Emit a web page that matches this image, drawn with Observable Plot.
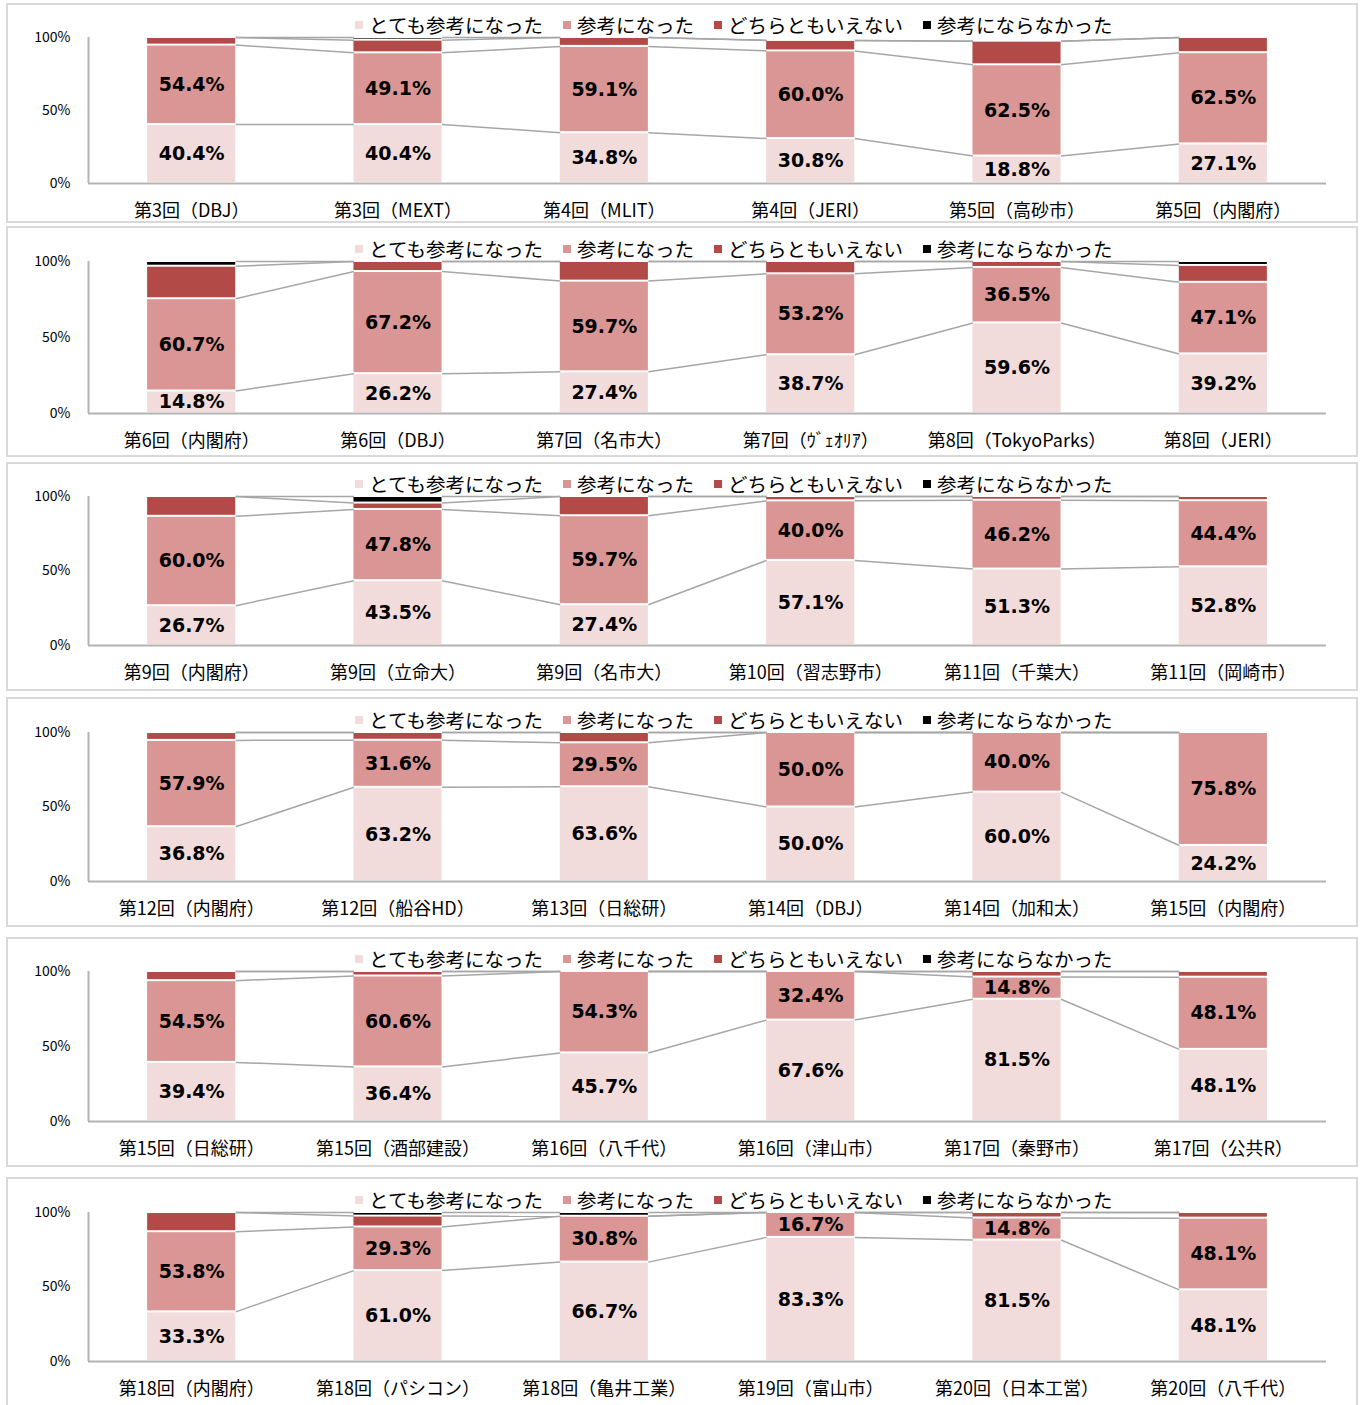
<!DOCTYPE html>
<html><head><meta charset="utf-8">
<script src="https://cdn.jsdelivr.net/npm/d3@7"></script>
<script src="https://cdn.jsdelivr.net/npm/@observablehq/plot@0.6"></script>
<style>
body{margin:0;background:#fff;width:1363px;height:1405px;overflow:hidden;position:relative;font-family:"Noto Sans CJK JP",sans-serif;}
.panel{position:absolute;left:6px;width:1348px;border:2px solid #d9d9d9;background:#fff;}
.panel svg{display:block;position:absolute;left:0;top:0;}
.legend{position:absolute;display:flex;align-items:center;font-size:19.5px;line-height:20px;color:#000;white-space:nowrap;}
.legend .item{display:flex;align-items:center;margin-right:20px;}
.legend .sw{width:8px;height:8px;margin-right:6px;}
</style></head><body>
<script>
const seriesNames = ["とても参考になった","参考になった","どちらともいえない","参考にならなかった"];
const seriesColors = ["#f2dcdb","#d99694","#b24b48","#000000"];
const yTicks = [0, 50, 100];

const labels1 = ["第3回（DBJ）","第3回（MEXT）","第4回（MLIT）","第4回（JERI）","第5回（高砂市）","第5回（内閣府）"];
const veryHelpful1 = [40.4,40.4,34.8,30.8,18.8,27.1];
const helpful1 = [54.4,49.1,59.1,60.0,62.5,62.5];
const neutral1 = [5.2,8.7,6.1,7.2,16.2,10.4];
const notHelpful1 = [0,1.8,0,0,0,0];

const labels2 = ["第6回（内閣府）","第6回（DBJ）","第7回（名市大）","第7回（ｳﾞｪｵﾘｱ）","第8回（TokyoParks）","第8回（JERI）"];
const veryHelpful2 = [14.8,26.2,27.4,38.7,59.6,39.2];
const helpful2 = [60.7,67.2,59.7,53.2,36.5,47.1];
const neutral2 = [21.4,6.6,12.9,8.1,3.9,11.1];
const notHelpful2 = [3.1,0,0,0,0,2.6];

const labels3 = ["第9回（内閣府）","第9回（立命大）","第9回（名市大）","第10回（習志野市）","第11回（千葉大）","第11回（岡崎市）"];
const veryHelpful3 = [26.7,43.5,27.4,57.1,51.3,52.8];
const helpful3 = [60.0,47.8,59.7,40.0,46.2,44.4];
const neutral3 = [13.3,4.3,12.9,2.9,2.5,2.8];
const notHelpful3 = [0,4.4,0,0,0,0];

const labels4 = ["第12回（内閣府）","第12回（船谷HD）","第13回（日総研）","第14回（DBJ）","第14回（加和太）","第15回（内閣府）"];
const veryHelpful4 = [36.8,63.2,63.6,50.0,60.0,24.2];
const helpful4 = [57.9,31.6,29.5,50.0,40.0,75.8];
const neutral4 = [5.3,5.2,6.9,0,0,0];
const notHelpful4 = [0,0,0,0,0,0];

const labels5 = ["第15回（日総研）","第15回（酒部建設）","第16回（八千代）","第16回（津山市）","第17回（秦野市）","第17回（公共R）"];
const veryHelpful5 = [39.4,36.4,45.7,67.6,81.5,48.1];
const helpful5 = [54.5,60.6,54.3,32.4,14.8,48.1];
const neutral5 = [6.1,3.0,0,0,3.7,3.8];
const notHelpful5 = [0,0,0,0,0,0];

const labels6 = ["第18回（内閣府）","第18回（パシコン）","第18回（亀井工業）","第19回（富山市）","第20回（日本工営）","第20回（八千代）"];
const veryHelpful6 = [33.3,61.0,66.7,83.3,81.5,48.1];
const helpful6 = [53.8,29.3,30.8,16.7,14.8,48.1];
const neutral6 = [12.9,7.3,0,0,3.7,3.8];
const notHelpful6 = [0,2.4,2.5,0,0,0];

const panelData = [
  {labels: labels1, series: [veryHelpful1, helpful1, neutral1, notHelpful1]},
  {labels: labels2, series: [veryHelpful2, helpful2, neutral2, notHelpful2]},
  {labels: labels3, series: [veryHelpful3, helpful3, neutral3, notHelpful3]},
  {labels: labels4, series: [veryHelpful4, helpful4, neutral4, notHelpful4]},
  {labels: labels5, series: [veryHelpful5, helpful5, neutral5, notHelpful5]},
  {labels: labels6, series: [veryHelpful6, helpful6, neutral6, notHelpful6]}
];

// layout (page pixels): box top/bottom, y of 100% and 0%
const panelLayout = [
  {top: 3, bottom: 223, y100: 37, y0: 183},
  {top: 226, bottom: 457, y100: 261, y0: 413},
  {top: 462, bottom: 691, y100: 496, y0: 645},
  {top: 697, bottom: 927, y100: 732, y0: 881},
  {top: 937, bottom: 1167, y100: 971, y0: 1121},
  {top: 1177, bottom: 1412, y100: 1212, y0: 1361}
];

const W = 1348, ML = 80, MR = 30, HW = 0.2135;

panelData.forEach((p, pi) => {
  const lay = panelLayout[pi];
  const n = p.labels.length;
  const height = lay.bottom - lay.top - 4;
  const innerTop = lay.top + 2;
  const marginTop = lay.y100 - innerTop;
  const marginBottom = height - (lay.y0 - innerTop);

  const rows = [];
  const cumTops = [];
  p.labels.forEach((lab, i) => {
    let cum = 0;
    const tops = [];
    p.series.forEach((arr, k) => {
      const v = arr[i];
      rows.push({i, k, name: seriesNames[k], v, y1: cum, y2: cum + v});
      cum += v;
      tops.push(cum);
    });
    cumTops.push(tops);
  });
  const links = [];
  for (let i = 0; i < n - 1; i++) {
    for (let k = 0; k < seriesNames.length; k++) {
      links.push({i, yA: cumTops[i][k], yB: cumTops[i + 1][k]});
    }
  }

  const chart = Plot.plot({
    width: W, height, marginLeft: ML, marginRight: MR, marginTop, marginBottom,
    x: {type: "linear", domain: [-0.5, n - 0.5], axis: null},
    y: {domain: [0, 100], axis: null},
    color: {domain: seriesNames, range: seriesColors},
    style: {fontFamily: "'Noto Sans CJK JP', sans-serif", color: "#000", background: "transparent", overflow: "visible"},
    marks: [
      Plot.link(links, {x1: d => d.i + HW, x2: d => d.i + 1 - HW, y1: "yA", y2: "yB", stroke: "#a6a6a6", strokeWidth: 1.5}),
      Plot.rect(rows.filter(d => d.v > 0), {x1: d => d.i - HW, x2: d => d.i + HW, y1: "y1", y2: "y2", fill: "name", insetTop: 1, insetBottom: 1}),
      Plot.ruleX([-0.5], {y1: 0, y2: 100, stroke: "#b3b3b3", strokeWidth: 2}),
      Plot.ruleY([0], {stroke: "#b3b3b3", strokeWidth: 2}),
      Plot.axisY({ticks: yTicks, tickFormat: d => d + "%", tickSize: 0, tickPadding: 18, fontSize: 14, label: null}),
      Plot.axisX({ticks: d3.range(n), tickFormat: i => p.labels[i], tickSize: 0, tickPadding: 21, fontSize: 18, label: null}),
      Plot.text(rows.filter(d => d.k < 2 && d.v > 0), {
        x: "i", y: d => (d.y1 + d.y2) / 2, text: d => d.v.toFixed(1) + "%",
        fontSize: 19, fontWeight: "bold", fontFamily: "'DejaVu Sans', sans-serif", fill: "#000"
      })
    ]
  });

  const div = document.createElement("div");
  div.className = "panel";
  div.style.top = lay.top + "px";
  div.style.height = height + "px";
  div.appendChild(chart);

  const leg = document.createElement("div");
  leg.className = "legend";
  leg.style.left = "347px";
  leg.style.top = (lay.y100 - 11 - 11 - innerTop) + "px";
  seriesNames.forEach((nm, k) => {
    const it = document.createElement("div");
    it.className = "item";
    const sw = document.createElement("span");
    sw.className = "sw";
    sw.style.background = seriesColors[k];
    const tx = document.createElement("span");
    tx.textContent = nm;
    it.appendChild(sw); it.appendChild(tx);
    leg.appendChild(it);
  });
  div.appendChild(leg);
  document.body.appendChild(div);
});
</script>
</body></html>
